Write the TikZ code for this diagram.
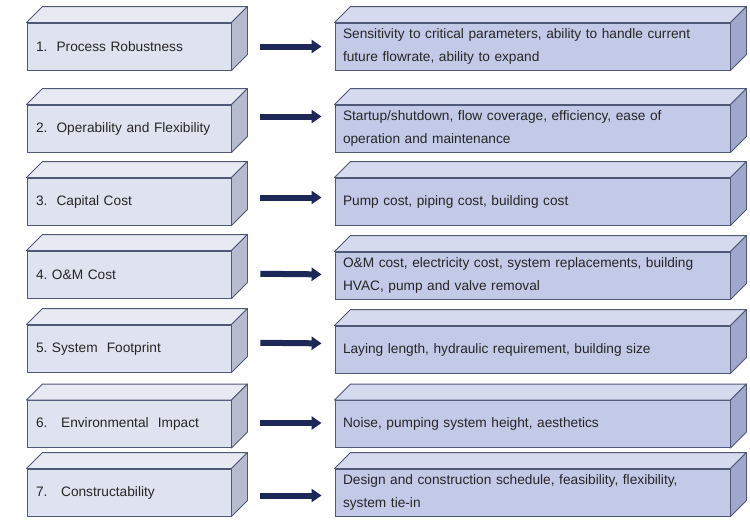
\documentclass[tikz,border=0pt]{standalone}
\usepackage{fontspec}
\setmainfont{Liberation Sans}
\usetikzlibrary{arrows.meta,calc}
\definecolor{edgec}{HTML}{505878}
\definecolor{lfront}{HTML}{DFE3F0}
\definecolor{ltop}{HTML}{E8EAF3}
\definecolor{lside}{HTML}{B6BBCE}
\definecolor{rfront}{HTML}{C3CAE8}
\definecolor{rtop}{HTML}{D6DAEF}
\definecolor{rside}{HTML}{A0A7CC}
\definecolor{arrc}{HTML}{1E2858}
\tikzset{
  lbox/.style={draw=edgec, line width=0.9pt, fill=lfront, minimum width=204pt, minimum height=47pt,
    text width=186pt, inner xsep=9pt, align=left, font=\fontsize{13.7}{22.5}\selectfont, text=black!85},
  rbox/.style={draw=edgec, line width=0.9pt, fill=rfront, minimum width=395pt, minimum height=47pt,
    text width=379pt, inner xsep=8pt, align=left, font=\fontsize{13.7}{22.5}\selectfont, text=black!85},
  face/.style={draw=edgec, line width=0.9pt, line join=round},
  bigarrow/.style={arrc, line width=6pt, -{Triangle[length=10pt,width=13pt]}, shorten <=29pt, shorten >=13pt}
}
\newcommand\slab[3]{%
  \filldraw[face, fill=#2] (#1.north west) -- ++(16,-16) -- ($(#1.north east)+(16,-16)$) -- (#1.north east) -- cycle;
  \filldraw[face, fill=#3] (#1.north east) -- ++(16,-16) -- ($(#1.south east)+(16,-16)$) -- (#1.south east) -- cycle;
}
\begin{document}
\begin{tikzpicture}[x=1pt,y=-1pt]
\useasboundingbox (0,0) rectangle (750,525);
\node[lbox] (l1) at (129,46.5) {1.\ \ Process Robustness};
\node[rbox] (r1) at (532.5,46.5) {Sensitivity to critical parameters, ability to handle current\\future flowrate, ability to expand};
\node[lbox] (l2) at (129,128.5) {2.\ \ Operability and Flexibility};
\node[rbox] (r2) at (532.5,128.5) {Startup/shutdown, flow coverage, efficiency, ease of\\operation and maintenance};
\node[lbox] (l3) at (129,201.5) {3.\ \ Capital Cost};
\node[rbox] (r3) at (532.5,201.5) {Pump cost, piping cost, building cost};
\node[lbox] (l4) at (129,274.5) {4.\ O\&M Cost};
\node[rbox] (r4) at (532.5,275.5) {O\&M cost, electricity cost, system replacements, building\\HVAC, pump and valve removal};
\node[lbox] (l5) at (129,348.5) {5.\ System\ \ Footprint};
\node[rbox] (r5) at (532.5,349.5) {Laying length, hydraulic requirement, building size};
\node[lbox] (l6) at (129,424) {6.\ \ \ Environmental\ \ Impact};
\node[rbox] (r6) at (532.5,424) {Noise, pumping system height, aesthetics};
\node[lbox] (l7) at (129,492.5) {7.\ \ \ Constructability};
\node[rbox] (r7) at (532.5,492.5) {Design and construction schedule, feasibility, flexibility,\\system tie-in};
\foreach \n in {1,...,7}{
  \slab{l\n}{ltop}{lside}
  \slab{r\n}{rtop}{rside}
}
\draw[bigarrow] ([yshift=0pt]l1.east) -- ([yshift=0pt]r1.west);
\draw[bigarrow] ([yshift=12pt]l2.east) -- ([yshift=12pt]r2.west);
\draw[bigarrow] ([yshift=4pt]l3.east) -- ([yshift=4pt]r3.west);
\draw[bigarrow] ([yshift=1pt]l4.east) -- ([yshift=1pt]r4.west);
\draw[bigarrow] ([yshift=6pt]l5.east) -- ([yshift=6pt]r5.west);
\draw[bigarrow] ([yshift=1pt]l6.east) -- ([yshift=1pt]r6.west);
\draw[bigarrow] ([yshift=-3pt]l7.east) -- ([yshift=-3pt]r7.west);
\end{tikzpicture}
\end{document}
